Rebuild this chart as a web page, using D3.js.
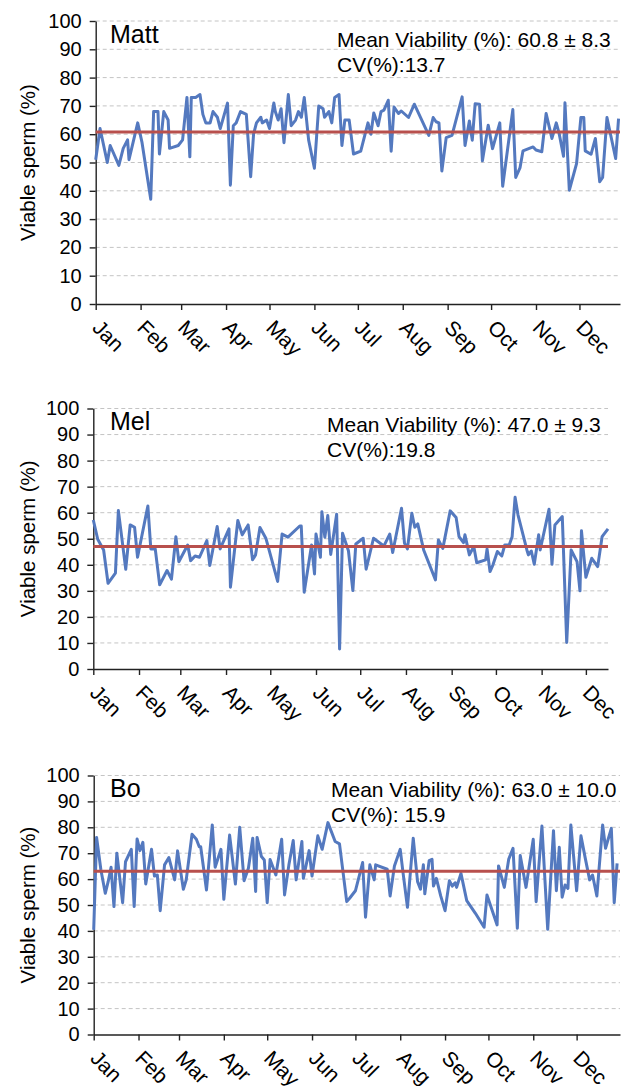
<!DOCTYPE html>
<html>
<head>
<meta charset="utf-8">
<script src="https://cdn.jsdelivr.net/npm/d3@7"></script>
<style>
  body { margin: 0; background: #fff; }
  svg { display: block; }
  text { font-family: "Liberation Sans", Arial, Helvetica, sans-serif; fill: #000; }
</style>
</head>
<body>
<svg id="chart" width="631" height="1086"></svg>
<script>
// Month names for the x axis and y-axis tick values
const monthLabels = ["Jan","Feb","Mar","Apr","May","Jun","Jul","Aug","Sep","Oct","Nov","Dec"];
const yTicks = [0,10,20,30,40,50,60,70,80,90,100];
const yTitle = "Viable sperm (%)";

// Sample day (days after 1 Jan) and viability (%) for each donor
const mattDays = [0,3,8,10,16,19,22,23,29,32,38,40,43,44,47,50,51,57,60,63,65,66,69,72,74,76,79,81,84,86,91,93,95,97,100,104,107,109,111,114,115,118,120,123,124,126,128,130,133,135,138,140,142,144,147,151,154,157,158,161,163,165,168,170,172,175,178,183,188,190,192,195,197,199,202,204,206,209,211,216,220,230,233,235,237,239,242,246,253,255,258,260,262,265,267,271,274,279,281,288,290,293,295,302,304,308,311,315,318,320,323,324,327,332,335,337,338,342,345,348,350,353,359,361];
const mattViability = [51,62,50,56,49,55,58,51,64,57,37,68,68,53,68,65,55,56,58,73,52,73,73,74,67,64,64,68,66,62,71,42,63,64,68,67,45,60,64,66,64,65,62,71,68,65,69,57,74,63,65,68,66,73,58,48,70,69,66,68,64,73,74,56,65,65,53,54,64,60,67.5,63,68,68.5,72,54,69.6,67.3,68.2,65.9,70.6,59.6,65.9,64.4,64,47,58.8,59.6,73.2,56,64.7,57.9,70.8,70.6,50.6,63.2,54.9,64,41.6,68.7,44.7,48.2,54.1,55.5,54.4,53.8,67.3,58.5,64,60.2,52.2,71.1,40.2,49.6,65.9,65.9,54.1,52.9,58.5,43.2,44.7,65.9,51.4,65.5];

const melDays = [0,3,7,10,15,17,22,25,28,30,37,39,42,45,50,53,56,58,64,66,69,72,77,79,84,86,92,93,98,101,105,108,110,113,117,125,128,132,140,141,143,148,150,151,154,155,157,159,161,165,167,169,173,176,178,183,185,190,197,201,203,209,211,213,216,218,220,224,232,234,237,242,246,248,251,252,255,258,260,266,267,269,271,274,277,279,282,284,286,288,294,295,297,299,302,303,309,311,313,318,321,324,328,330,331,334,338,342,345,349];
const melViability = [57.2,49.8,45.7,32.9,36.8,60.8,38.3,55.3,54.4,42.9,62.6,46.1,46.1,32.3,37.8,34.5,50.8,41.2,47.6,41.6,43.4,42.9,49.3,39.7,54.7,46.1,53.8,31.4,57,51.5,55.3,41.9,43.8,54.3,50.2,33.6,51.8,50.6,54.9,54.9,29.5,47.6,36.5,51.8,42.9,60.4,50.6,58.9,44,59.4,7.7,52.1,45.4,30.1,48,50.2,38.3,50.2,47.2,51.8,44.7,61.7,48.3,46.1,59.8,54.4,55.7,45.7,34.2,49.5,46.3,60.7,58.2,50.8,48.5,51.5,43.8,47,40.8,41.9,46.1,37.4,40,45.1,43.4,47.6,47.6,50.8,65.9,59.1,45.7,43.8,45.3,40.2,51.5,45.7,61.3,40.2,55.3,58.5,10.2,45.7,41.2,30,53.1,35.2,42.5,39.3,50.8,53.8];

const boDays = [0,2,5,8,10,12,14,16,20,22,26,28,30,32,34,36,40,42,44,46,49,52,56,58,62,64,68,71,73,74,78,82,84,88,90,94,98,101,104,107,110,112,113,116,118,120,122,126,130,132,135,138,140,144,145,149,151,155,158,162,167,170,175,177,181,186,188,191,194,195,203,205,208,212,214,217,221,224,226,228,229,232,234,235,237,240,243,246,248,250,251,254,258,264,270,272,279,280,284,287,290,293,295,299,304,306,310,314,318,320,322,324,326,328,330,334,337,340,343,345,348,352,354,358,360,362];
const boViability = [40.4,76.1,63.5,54.5,59,64.6,49.4,70,50.9,66.7,71.5,49.4,75.5,71,74.2,58.1,71.5,61.2,61.6,47.8,65.5,68.3,59.7,70.9,56.1,59.7,77.3,75.4,72.5,72.5,55.8,80.9,64.6,71.5,52.2,77,58.1,80,59.4,64.2,75.8,55.2,76.1,68.7,67.4,50.9,67.6,61.6,75.4,53.9,65.5,74.9,59.7,74.5,60.3,71,61.2,76.7,71.5,81.8,74.5,73.6,51.3,52.6,55.5,66.4,45.3,65.5,59.7,65.5,63.8,53.5,65.1,71.5,62.2,49.1,75.8,59,56.1,65.5,54.3,67.1,67.6,57.3,60.3,53.5,47.8,59.4,57.3,58.6,56.8,62.2,51.7,46.8,41.4,53.9,42.3,65.1,56.8,67.6,71.9,41,69.1,56.8,75.4,51.3,80.5,40.6,78.7,55.5,72.3,53,57.7,56.4,80.9,55.5,76.7,68,59.7,61.6,53.5,80.9,71.9,79.6,50.9,66.1];

// Donor names, mean ± SD and coefficient of variation
const donorNames = ["Matt", "Mel", "Bo"];
const meanViability = [60.8, 47.0, 63.0];
const sdViability = ["8.3", "9.3", "10.0"];
const cvLabels = ["CV(%):13.7", "CV(%):19.8", "CV(%): 15.9"];

// Panel geometry (pixels) and the length of each panel's date axis in days
const panels = [
  { days: mattDays, values: mattViability, top: 21, bottom: 304, left: 95.7, right: 620, span: 362,
    nameY: 43, statX: 337, statY: 46.5 },
  { days: melDays, values: melViability, top: 408.5, bottom: 669, left: 93.3, right: 608, span: 349,
    nameY: 430, statX: 327, statY: 432 },
  { days: boDays, values: boViability, top: 775.5, bottom: 1034.5, left: 93.7, right: 620, span: 364,
    nameY: 797, statX: 331, statY: 797 }
];

const yearStart = new Date(2013, 0, 1);
const svg = d3.select("#chart");

panels.forEach((p, i) => {
  const g = svg.append("g");
  const x = d3.scaleTime()
    .domain([yearStart, d3.timeDay.offset(yearStart, p.span)])
    .range([p.left, p.right]);
  const y = d3.scaleLinear().domain([0, 100]).range([p.bottom, p.top]);

  // dashed horizontal gridlines
  g.append("g").selectAll("line")
    .data(yTicks.filter(t => t > 0))
    .join("line")
    .attr("x1", p.left).attr("x2", p.right)
    .attr("y1", d => y(d)).attr("y2", d => y(d))
    .attr("stroke", "#c4c4c4").attr("stroke-width", 1)
    .attr("stroke-dasharray", "4,3");

  // y axis
  const yAxis = g.append("g")
    .attr("transform", `translate(${p.left},0)`)
    .call(d3.axisLeft(y).tickValues(yTicks).tickSize(6).tickSizeOuter(0).tickPadding(8));
  yAxis.select(".domain").attr("stroke", "#222").attr("stroke-width", 1.4);
  yAxis.selectAll(".tick line").attr("stroke", "#222").attr("stroke-width", 1.4);
  yAxis.selectAll(".tick text").attr("font-size", 20).style("font-family", "Liberation Sans, Arial, sans-serif").attr("fill", "#000");

  // x axis with month ticks
  const monthStarts = d3.range(12).map(m => new Date(2013, m, 1))
    .filter(d => d < x.domain()[1]);
  const xAxis = g.append("g")
    .attr("transform", `translate(0,${p.bottom})`)
    .call(d3.axisBottom(x).tickValues(monthStarts)
      .tickFormat(d => monthLabels[d.getMonth()])
      .tickSize(6).tickSizeOuter(0));
  xAxis.select(".domain").attr("stroke", "#222").attr("stroke-width", 1.4);
  xAxis.selectAll(".tick line").attr("stroke", "#222").attr("stroke-width", 1.4);
  xAxis.selectAll(".tick text")
    .attr("font-size", 21)
    .style("font-family", "Liberation Sans, Arial, sans-serif")
    .attr("fill", "#000")
    .attr("text-anchor", "start")
    .attr("x", 0).attr("y", 0).attr("dy", 0)
    .attr("transform", "translate(-5,25) rotate(45)");

  // y-axis title
  g.append("text")
    .attr("transform", `translate(35,${(p.top + p.bottom) / 2}) rotate(-90)`)
    .attr("text-anchor", "middle")
    .attr("font-size", 20.5)
    .text(yTitle);

  // viability series
  const pts = p.days.map((d, k) => ({ date: d3.timeDay.offset(yearStart, d), v: p.values[k] }));
  g.append("path")
    .datum(pts)
    .attr("fill", "none")
    .attr("stroke", "#5479bf")
    .attr("stroke-width", 3)
    .attr("stroke-linejoin", "round")
    .attr("d", d3.line().x(d => x(d.date)).y(d => y(d.v)));

  // mean line
  g.append("line")
    .attr("x1", p.left).attr("x2", p.right)
    .attr("y1", y(meanViability[i])).attr("y2", y(meanViability[i]))
    .attr("stroke", "#b8504d").attr("stroke-width", 3);

  // donor name and statistics
  g.append("text").attr("x", 110).attr("y", p.nameY).attr("font-size", 25).text(donorNames[i]);
  g.append("text").attr("x", p.statX).attr("y", p.statY).attr("font-size", 21)
    .text(`Mean Viability (%): ${meanViability[i].toFixed(1)} ± ${sdViability[i]}`);
  g.append("text").attr("x", p.statX).attr("y", p.statY + 25).attr("font-size", 21)
    .text(cvLabels[i]);
});
</script>
</body>
</html>
